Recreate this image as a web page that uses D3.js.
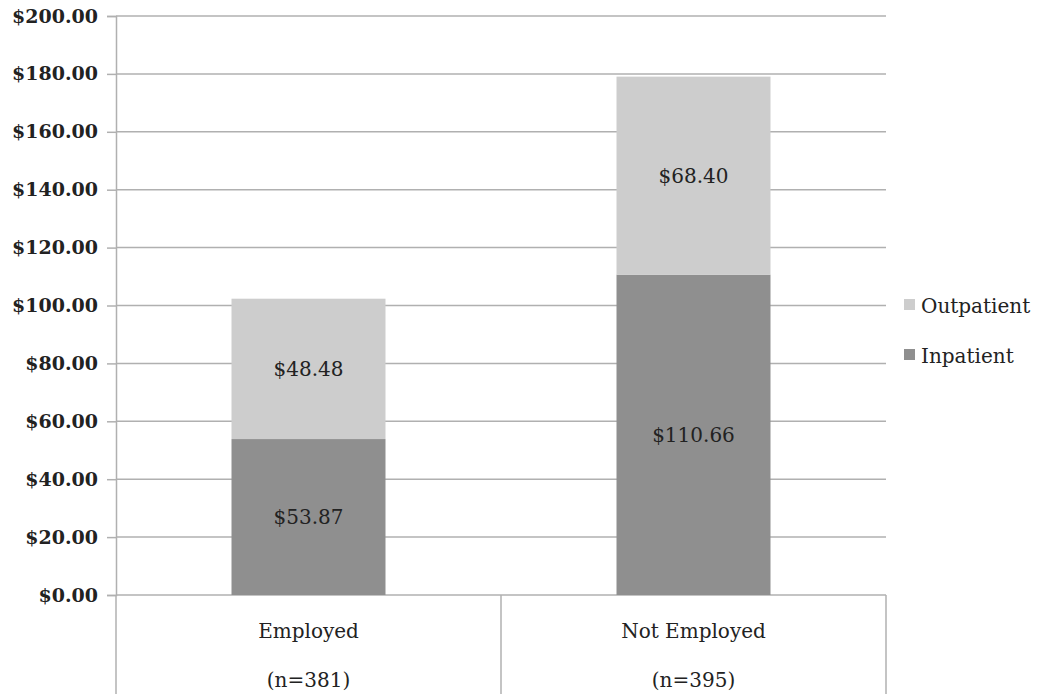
<!DOCTYPE html>
<html>
<head>
<meta charset="utf-8">
<script src="https://cdn.jsdelivr.net/npm/d3@7"></script>
<style>
  body { margin: 0; background: #fff; }
  svg text { font-family: "DejaVu Serif", serif; fill: #222; }
</style>
</head>
<body>
<div id="chart"></div>
<script>
const categories = ["Employed", "Not Employed"];
const sampleSizes = ["(n=381)", "(n=395)"];
const seriesNames = ["Inpatient", "Outpatient"];
const inpatient = [53.87, 110.66];
const outpatient = [48.48, 68.40];
const yTicks = [0, 20, 40, 60, 80, 100, 120, 140, 160, 180, 200];
const colors = { Inpatient: "#8f8f8f", Outpatient: "#cdcdcd" };

const width = 1045, height = 694;
const margin = { left: 116, right: 159, top: 16, bottom: 99 };

const rows = categories.map((c, i) => ({ cat: c, Inpatient: inpatient[i], Outpatient: outpatient[i] }));
const stacked = d3.stack().keys(seriesNames)(rows);

const svg = d3.select("#chart").append("svg")
  .attr("width", width).attr("height", height);

const x = d3.scaleBand().domain(categories)
  .range([margin.left, width - margin.right]).paddingInner(0).paddingOuter(0);
const y = d3.scaleLinear().domain([0, 200])
  .range([height - margin.bottom, margin.top]);

const gridColor = "#b0b0b0";

// gridlines + y labels
const yAxis = svg.append("g")
  .attr("transform", `translate(${margin.left},0)`)
  .call(d3.axisLeft(y).tickValues(yTicks).tickFormat(d => "$" + d3.format(".2f")(d))
    .tickSize(9).tickPadding(9))
  .call(g => g.select(".domain").attr("stroke", gridColor).attr("stroke-width", 1.5));
yAxis.selectAll(".tick line").attr("stroke", gridColor).attr("stroke-width", 1.5);
yAxis.selectAll(".tick text").attr("font-size", 19).attr("fill", "#2a2a2a")
  .attr("font-weight", "bold").attr("font-family", "DejaVu Serif");

svg.append("g").selectAll("line")
  .data(yTicks)
  .join("line")
  .attr("x1", margin.left).attr("x2", width - margin.right)
  .attr("y1", d => y(d)).attr("y2", d => y(d))
  .attr("stroke", gridColor).attr("stroke-width", 1.5);

// category separators
const bounds = [margin.left, ...categories.map(c => x(c) + x.bandwidth())];
svg.append("g").selectAll("line")
  .data(bounds)
  .join("line")
  .attr("x1", d => d).attr("x2", d => d)
  .attr("y1", y(0)).attr("y2", height)
  .attr("stroke", gridColor).attr("stroke-width", 1.5);

// bars
const barW = x.bandwidth() * 0.4;
const layer = svg.append("g").selectAll("g")
  .data(stacked)
  .join("g")
  .attr("fill", d => colors[d.key]);

layer.selectAll("rect")
  .data(d => d)
  .join("rect")
  .attr("x", d => x(d.data.cat) + (x.bandwidth() - barW) / 2)
  .attr("width", barW)
  .attr("y", d => y(d[1]))
  .attr("height", d => y(d[0]) - y(d[1]));

// value labels
layer.selectAll("text")
  .data(d => d)
  .join("text")
  .attr("x", d => x(d.data.cat) + x.bandwidth() / 2)
  .attr("y", d => y((d[0] + d[1]) / 2))
  .attr("dy", "0.35em")
  .attr("text-anchor", "middle")
  .attr("font-size", 20)
  .text(d => "$" + d3.format(".2f")(d[1] - d[0]));

// category labels
const catG = svg.append("g");
catG.selectAll("text.cat")
  .data(categories)
  .join("text")
  .attr("class", "cat")
  .attr("x", d => x(d) + x.bandwidth() / 2)
  .attr("y", 631)
  .attr("dy", "0.35em")
  .attr("text-anchor", "middle")
  .attr("font-size", 20)
  .text(d => d);
catG.selectAll("text.n")
  .data(categories)
  .join("text")
  .attr("class", "n")
  .attr("x", d => x(d) + x.bandwidth() / 2)
  .attr("y", 680)
  .attr("dy", "0.35em")
  .attr("text-anchor", "middle")
  .attr("font-size", 20)
  .text((d, i) => sampleSizes[i]);

// legend
const legendItems = ["Outpatient", "Inpatient"];
const legend = svg.append("g").selectAll("g")
  .data(legendItems)
  .join("g")
  .attr("transform", (d, i) => `translate(904,${306 + i * 50})`);
legend.append("rect")
  .attr("x", 0).attr("y", -7).attr("width", 11).attr("height", 11)
  .attr("fill", d => colors[d]);
legend.append("text")
  .attr("x", 17).attr("y", 0).attr("dy", "0.35em")
  .attr("font-size", 20)
  .text(d => d);
</script>
</body>
</html>
